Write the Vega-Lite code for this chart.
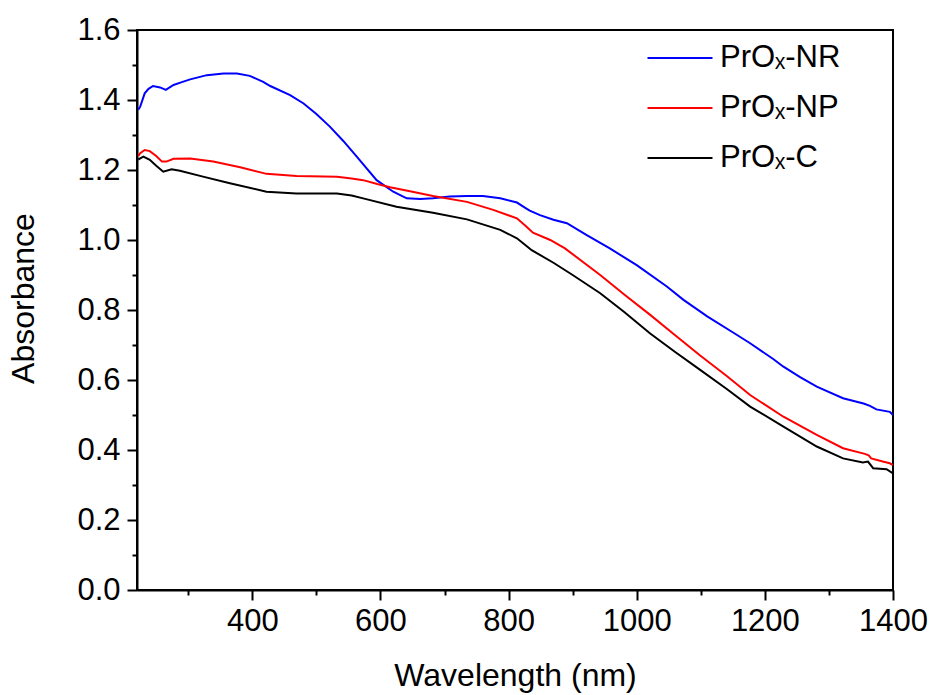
{
  "$schema": "https://vega.github.io/schema/vega-lite/v6.json",
  "width": 756,
  "height": 560,
  "autosize": {"type": "none"},
  "padding": {"left": 137, "top": 30, "right": 40, "bottom": 105},
  "background": "white",
  "config": {
    "font": "Liberation Sans",
    "view": {"stroke": "black", "strokeWidth": 2}
  },
  "data": {
    "values": [
      {"sample":"PrOₓ-NR","wavelength":222,"absorbance":1.372},
      {"sample":"PrOₓ-NR","wavelength":225,"absorbance":1.381},
      {"sample":"PrOₓ-NR","wavelength":232,"absorbance":1.419},
      {"sample":"PrOₓ-NR","wavelength":238,"absorbance":1.432},
      {"sample":"PrOₓ-NR","wavelength":245,"absorbance":1.440},
      {"sample":"PrOₓ-NR","wavelength":256,"absorbance":1.436},
      {"sample":"PrOₓ-NR","wavelength":265,"absorbance":1.429},
      {"sample":"PrOₓ-NR","wavelength":277,"absorbance":1.443},
      {"sample":"PrOₓ-NR","wavelength":290,"absorbance":1.451},
      {"sample":"PrOₓ-NR","wavelength":303,"absorbance":1.459},
      {"sample":"PrOₓ-NR","wavelength":329,"absorbance":1.471},
      {"sample":"PrOₓ-NR","wavelength":355,"absorbance":1.476},
      {"sample":"PrOₓ-NR","wavelength":376,"absorbance":1.476},
      {"sample":"PrOₓ-NR","wavelength":396,"absorbance":1.469},
      {"sample":"PrOₓ-NR","wavelength":417,"absorbance":1.452},
      {"sample":"PrOₓ-NR","wavelength":428,"absorbance":1.440},
      {"sample":"PrOₓ-NR","wavelength":459,"absorbance":1.414},
      {"sample":"PrOₓ-NR","wavelength":480,"absorbance":1.390},
      {"sample":"PrOₓ-NR","wavelength":500,"absorbance":1.360},
      {"sample":"PrOₓ-NR","wavelength":521,"absorbance":1.324},
      {"sample":"PrOₓ-NR","wavelength":542,"absorbance":1.283},
      {"sample":"PrOₓ-NR","wavelength":563,"absorbance":1.238},
      {"sample":"PrOₓ-NR","wavelength":594,"absorbance":1.171},
      {"sample":"PrOₓ-NR","wavelength":620,"absorbance":1.138},
      {"sample":"PrOₓ-NR","wavelength":641,"absorbance":1.119},
      {"sample":"PrOₓ-NR","wavelength":662,"absorbance":1.117},
      {"sample":"PrOₓ-NR","wavelength":682,"absorbance":1.119},
      {"sample":"PrOₓ-NR","wavelength":708,"absorbance":1.124},
      {"sample":"PrOₓ-NR","wavelength":735,"absorbance":1.126},
      {"sample":"PrOₓ-NR","wavelength":760,"absorbance":1.126},
      {"sample":"PrOₓ-NR","wavelength":787,"absorbance":1.119},
      {"sample":"PrOₓ-NR","wavelength":813,"absorbance":1.107},
      {"sample":"PrOₓ-NR","wavelength":826,"absorbance":1.092},
      {"sample":"PrOₓ-NR","wavelength":833,"absorbance":1.084},
      {"sample":"PrOₓ-NR","wavelength":849,"absorbance":1.071},
      {"sample":"PrOₓ-NR","wavelength":870,"absorbance":1.058},
      {"sample":"PrOₓ-NR","wavelength":891,"absorbance":1.048},
      {"sample":"PrOₓ-NR","wavelength":922,"absorbance":1.014},
      {"sample":"PrOₓ-NR","wavelength":958,"absorbance":0.976},
      {"sample":"PrOₓ-NR","wavelength":1000,"absorbance":0.928},
      {"sample":"PrOₓ-NR","wavelength":1047,"absorbance":0.867},
      {"sample":"PrOₓ-NR","wavelength":1073,"absorbance":0.829},
      {"sample":"PrOₓ-NR","wavelength":1110,"absorbance":0.782},
      {"sample":"PrOₓ-NR","wavelength":1151,"absorbance":0.735},
      {"sample":"PrOₓ-NR","wavelength":1177,"absorbance":0.705},
      {"sample":"PrOₓ-NR","wavelength":1213,"absorbance":0.660},
      {"sample":"PrOₓ-NR","wavelength":1229,"absorbance":0.638},
      {"sample":"PrOₓ-NR","wavelength":1255,"absorbance":0.608},
      {"sample":"PrOₓ-NR","wavelength":1281,"absorbance":0.581},
      {"sample":"PrOₓ-NR","wavelength":1322,"absorbance":0.548},
      {"sample":"PrOₓ-NR","wavelength":1354,"absorbance":0.533},
      {"sample":"PrOₓ-NR","wavelength":1364,"absorbance":0.526},
      {"sample":"PrOₓ-NR","wavelength":1374,"absorbance":0.516},
      {"sample":"PrOₓ-NR","wavelength":1395,"absorbance":0.509},
      {"sample":"PrOₓ-NR","wavelength":1400,"absorbance":0.500},

      {"sample":"PrOₓ-NP","wavelength":222,"absorbance":1.240},
      {"sample":"PrOₓ-NP","wavelength":225,"absorbance":1.248},
      {"sample":"PrOₓ-NP","wavelength":232,"absorbance":1.257},
      {"sample":"PrOₓ-NP","wavelength":240,"absorbance":1.254},
      {"sample":"PrOₓ-NP","wavelength":250,"absorbance":1.240},
      {"sample":"PrOₓ-NP","wavelength":259,"absorbance":1.224},
      {"sample":"PrOₓ-NP","wavelength":266,"absorbance":1.224},
      {"sample":"PrOₓ-NP","wavelength":277,"absorbance":1.232},
      {"sample":"PrOₓ-NP","wavelength":303,"absorbance":1.233},
      {"sample":"PrOₓ-NP","wavelength":339,"absorbance":1.224},
      {"sample":"PrOₓ-NP","wavelength":381,"absorbance":1.208},
      {"sample":"PrOₓ-NP","wavelength":422,"absorbance":1.189},
      {"sample":"PrOₓ-NP","wavelength":469,"absorbance":1.183},
      {"sample":"PrOₓ-NP","wavelength":532,"absorbance":1.181},
      {"sample":"PrOₓ-NP","wavelength":555,"absorbance":1.176},
      {"sample":"PrOₓ-NP","wavelength":573,"absorbance":1.171},
      {"sample":"PrOₓ-NP","wavelength":595,"absorbance":1.160},
      {"sample":"PrOₓ-NP","wavelength":615,"absorbance":1.151},
      {"sample":"PrOₓ-NP","wavelength":650,"absorbance":1.138},
      {"sample":"PrOₓ-NP","wavelength":682,"absorbance":1.126},
      {"sample":"PrOₓ-NP","wavelength":735,"absorbance":1.109},
      {"sample":"PrOₓ-NP","wavelength":776,"absorbance":1.086},
      {"sample":"PrOₓ-NP","wavelength":813,"absorbance":1.062},
      {"sample":"PrOₓ-NP","wavelength":828,"absorbance":1.038},
      {"sample":"PrOₓ-NP","wavelength":838,"absorbance":1.021},
      {"sample":"PrOₓ-NP","wavelength":865,"absorbance":1.000},
      {"sample":"PrOₓ-NP","wavelength":888,"absorbance":0.976},
      {"sample":"PrOₓ-NP","wavelength":943,"absorbance":0.900},
      {"sample":"PrOₓ-NP","wavelength":980,"absorbance":0.845},
      {"sample":"PrOₓ-NP","wavelength":1021,"absorbance":0.786},
      {"sample":"PrOₓ-NP","wavelength":1060,"absorbance":0.728},
      {"sample":"PrOₓ-NP","wavelength":1099,"absorbance":0.670},
      {"sample":"PrOₓ-NP","wavelength":1140,"absorbance":0.612},
      {"sample":"PrOₓ-NP","wavelength":1177,"absorbance":0.557},
      {"sample":"PrOₓ-NP","wavelength":1229,"absorbance":0.495},
      {"sample":"PrOₓ-NP","wavelength":1281,"absorbance":0.443},
      {"sample":"PrOₓ-NP","wavelength":1322,"absorbance":0.405},
      {"sample":"PrOₓ-NP","wavelength":1356,"absorbance":0.389},
      {"sample":"PrOₓ-NP","wavelength":1362,"absorbance":0.385},
      {"sample":"PrOₓ-NP","wavelength":1366,"absorbance":0.376},
      {"sample":"PrOₓ-NP","wavelength":1384,"absorbance":0.367},
      {"sample":"PrOₓ-NP","wavelength":1395,"absorbance":0.362},
      {"sample":"PrOₓ-NP","wavelength":1400,"absorbance":0.357},

      {"sample":"PrOₓ-C","wavelength":222,"absorbance":1.230},
      {"sample":"PrOₓ-C","wavelength":225,"absorbance":1.233},
      {"sample":"PrOₓ-C","wavelength":230,"absorbance":1.238},
      {"sample":"PrOₓ-C","wavelength":240,"absorbance":1.229},
      {"sample":"PrOₓ-C","wavelength":250,"absorbance":1.212},
      {"sample":"PrOₓ-C","wavelength":261,"absorbance":1.195},
      {"sample":"PrOₓ-C","wavelength":274,"absorbance":1.202},
      {"sample":"PrOₓ-C","wavelength":287,"absorbance":1.198},
      {"sample":"PrOₓ-C","wavelength":323,"absorbance":1.181},
      {"sample":"PrOₓ-C","wavelength":365,"absorbance":1.162},
      {"sample":"PrOₓ-C","wavelength":422,"absorbance":1.138},
      {"sample":"PrOₓ-C","wavelength":469,"absorbance":1.133},
      {"sample":"PrOₓ-C","wavelength":532,"absorbance":1.133},
      {"sample":"PrOₓ-C","wavelength":555,"absorbance":1.127},
      {"sample":"PrOₓ-C","wavelength":573,"absorbance":1.119},
      {"sample":"PrOₓ-C","wavelength":625,"absorbance":1.095},
      {"sample":"PrOₓ-C","wavelength":682,"absorbance":1.078},
      {"sample":"PrOₓ-C","wavelength":735,"absorbance":1.059},
      {"sample":"PrOₓ-C","wavelength":787,"absorbance":1.029},
      {"sample":"PrOₓ-C","wavelength":813,"absorbance":1.005},
      {"sample":"PrOₓ-C","wavelength":828,"absorbance":0.983},
      {"sample":"PrOₓ-C","wavelength":836,"absorbance":0.971},
      {"sample":"PrOₓ-C","wavelength":870,"absorbance":0.935},
      {"sample":"PrOₓ-C","wavelength":900,"absorbance":0.900},
      {"sample":"PrOₓ-C","wavelength":943,"absorbance":0.848},
      {"sample":"PrOₓ-C","wavelength":980,"absorbance":0.795},
      {"sample":"PrOₓ-C","wavelength":1021,"absorbance":0.733},
      {"sample":"PrOₓ-C","wavelength":1060,"absorbance":0.680},
      {"sample":"PrOₓ-C","wavelength":1099,"absorbance":0.629},
      {"sample":"PrOₓ-C","wavelength":1140,"absorbance":0.575},
      {"sample":"PrOₓ-C","wavelength":1177,"absorbance":0.524},
      {"sample":"PrOₓ-C","wavelength":1229,"absorbance":0.467},
      {"sample":"PrOₓ-C","wavelength":1281,"absorbance":0.410},
      {"sample":"PrOₓ-C","wavelength":1322,"absorbance":0.376},
      {"sample":"PrOₓ-C","wavelength":1353,"absorbance":0.364},
      {"sample":"PrOₓ-C","wavelength":1361,"absorbance":0.367},
      {"sample":"PrOₓ-C","wavelength":1369,"absorbance":0.348},
      {"sample":"PrOₓ-C","wavelength":1390,"absorbance":0.345},
      {"sample":"PrOₓ-C","wavelength":1400,"absorbance":0.333}
    ]
  },
  "mark": {"type": "line", "strokeWidth": 2, "clip": true},
  "encoding": {
    "x": {
      "field": "wavelength",
      "type": "quantitative",
      "scale": {"domain": [220, 1400], "nice": false, "zero": false},
      "axis": {
        "title": "Wavelength (nm)",
        "values": [300, 400, 500, 600, 700, 800, 900, 1000, 1100, 1200, 1300, 1400],
        "format": "d",
        "labelExpr": "datum.value % 200 === 0 ? datum.label : ''",
        "tickSize": {"condition": {"test": "datum.value % 200 === 0", "value": 10}, "value": 5},
        "tickColor": "black",
        "tickWidth": 2,
        "domainColor": "black",
        "domainWidth": 2,
        "grid": false,
        "labelFlush": false,
        "labelOverlap": false,
        "labelFontSize": 31,
        "labelColor": "black",
        "labelPadding": 6,
        "titleFontSize": 32,
        "titleFontWeight": "normal",
        "titleColor": "black",
        "titlePadding": 24
      }
    },
    "y": {
      "field": "absorbance",
      "type": "quantitative",
      "scale": {"domain": [0, 1.6], "nice": false},
      "axis": {
        "title": "Absorbance",
        "values": [0, 0.1, 0.2, 0.3, 0.4, 0.5, 0.6, 0.7, 0.8, 0.9, 1.0, 1.1, 1.2, 1.3, 1.4, 1.5, 1.6],
        "format": ".1f",
        "labelExpr": "round(datum.value * 10) % 2 === 0 ? datum.label : ''",
        "tickSize": {"condition": {"test": "round(datum.value * 10) % 2 === 0", "value": 10}, "value": 5},
        "tickColor": "black",
        "tickWidth": 2,
        "domainColor": "black",
        "domainWidth": 2,
        "grid": false,
        "labelFlush": false,
        "labelOverlap": false,
        "labelFontSize": 31,
        "labelColor": "black",
        "labelPadding": 7,
        "titleFontSize": 32,
        "titleFontWeight": "normal",
        "titleColor": "black",
        "titlePadding": 36,
        "titleY": 268
      }
    },
    "color": {
      "field": "sample",
      "type": "nominal",
      "scale": {"domain": ["PrOₓ-NR", "PrOₓ-NP", "PrOₓ-C"], "range": ["#0000ff", "#ff0000", "#000000"]},
      "legend": {
        "orient": "none",
        "legendX": 517,
        "legendY": 2,
        "title": null,
        "padding": 0,
        "symbolType": "M-1.3,0H1.3",
        "symbolSize": 2500,
        "symbolStrokeWidth": 2,
        "rowPadding": 9,
        "labelOffset": 14,
        "labelFontSize": 31,
        "labelColor": "black",
        "labelLimit": 300
      }
    }
  }
}
